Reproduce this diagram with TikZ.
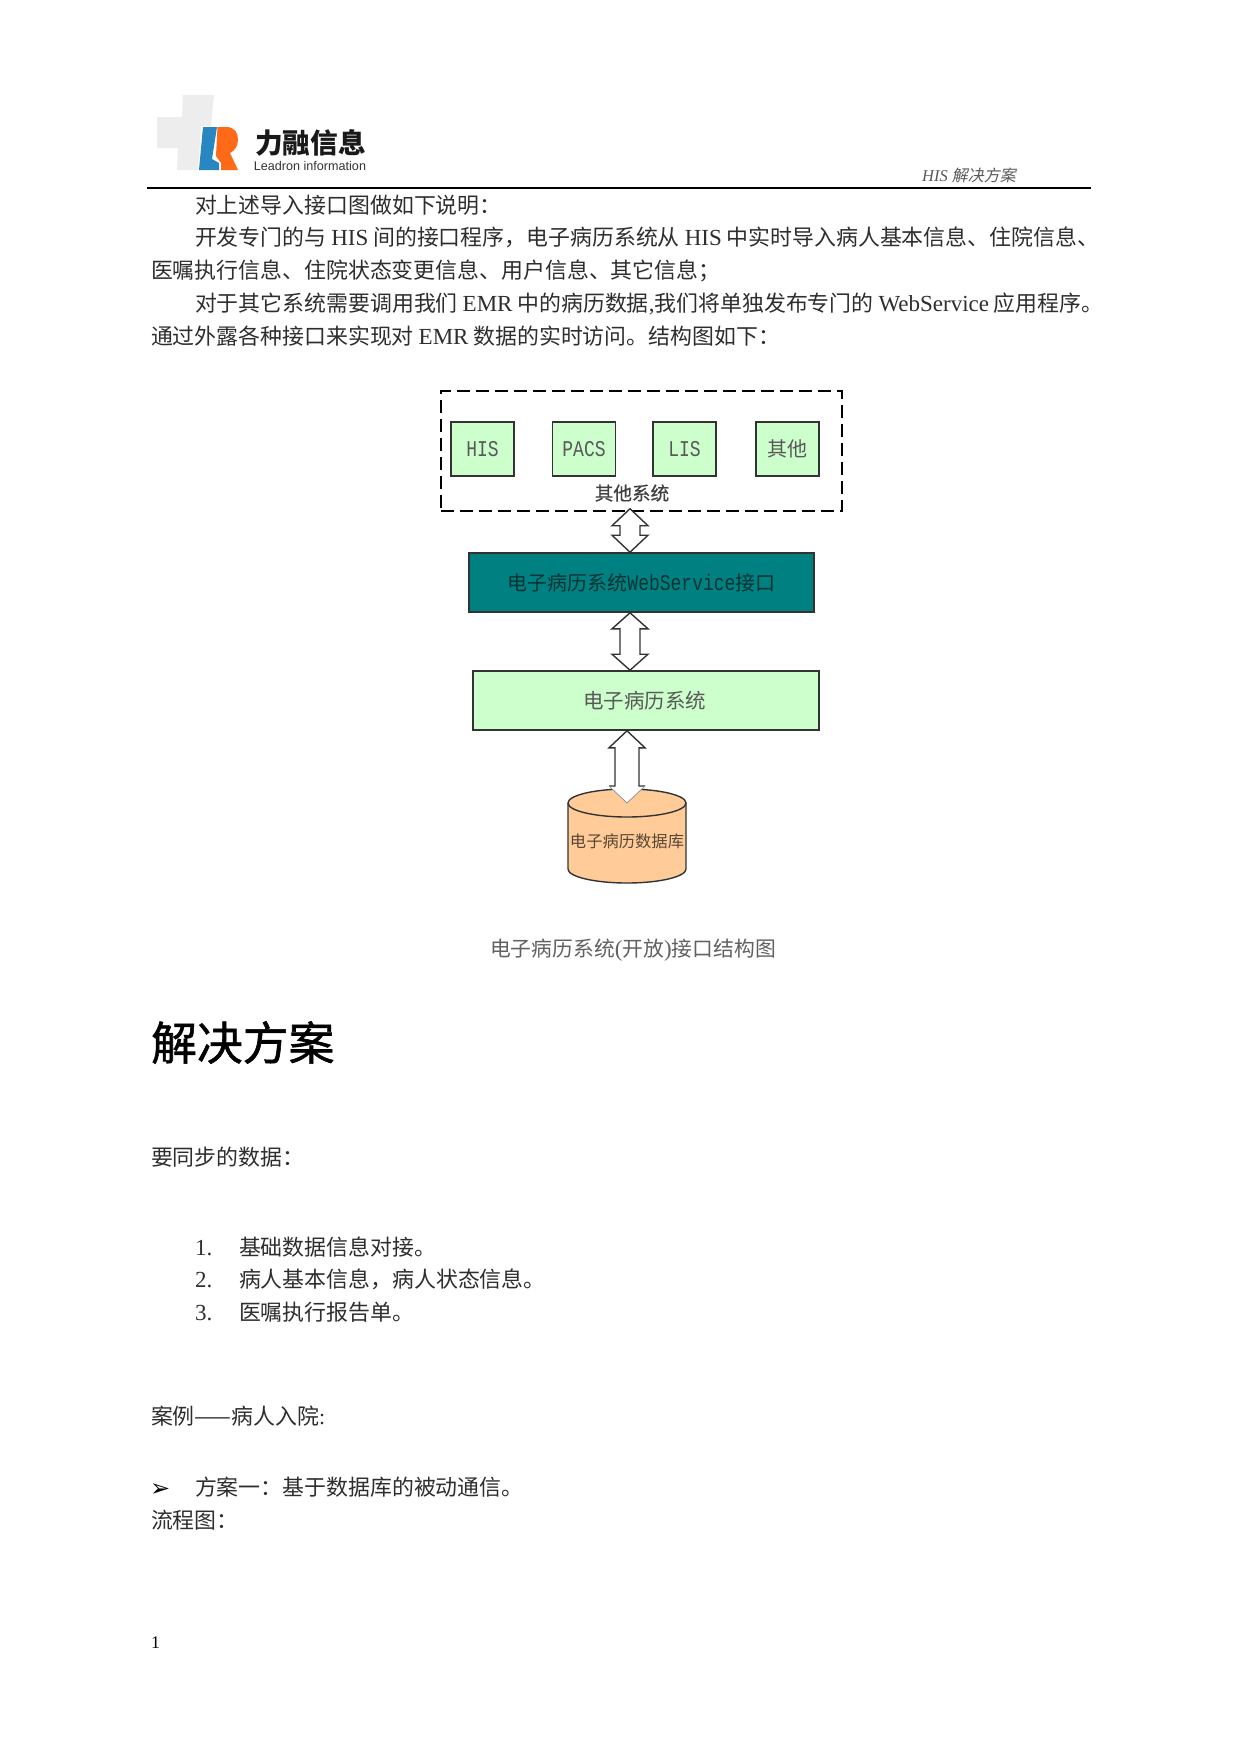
\documentclass[tikz,border=0pt]{standalone}
\usepackage{fontspec}
\usetikzlibrary{calc}
\setmainfont{Noto Sans CJK SC}
\newfontfamily\lat{Liberation Serif}
\newfontfamily\cjkit{Noto Sans CJK SC}[FakeSlant=0.2]
\newfontfamily\cjkh{Noto Sans CJK SC}[FakeBold=1.2]
\newfontfamily\cjkm{Noto Sans CJK SC}[FakeBold=0.6]
\newfontfamily\mono{Liberation Mono}
\newfontfamily\sanslat{Liberation Sans}
\newfontfamily\dv{DejaVu Sans}
\newcommand{\sz}[1]{\fontsize{#1}{#1}\selectfont}
\newcommand{\la}[1]{{\lat\sz{23}#1}}
\newcommand{\tall}[2]{\scalebox{1}[1.25]{\mono\sz{#1}#2}}
\newcommand{\up}[1]{\raisebox{1.5pt}{#1}}
\definecolor{bodyc}{HTML}{2E2E2E}
\definecolor{lgreen}{HTML}{CCFFCC}
\definecolor{tealc}{HTML}{008080}
\definecolor{orangec}{HTML}{FFCC99}
\definecolor{edgec}{HTML}{333333}
\tikzset{
  txt/.style={anchor=base west,inner sep=0pt,outer sep=0pt,text=bodyc,font=\sz{21.9}},
  sysbox/.style={draw=edgec,line width=1.6pt,fill=lgreen,minimum width=63pt,minimum height=54pt,inner sep=0pt,text=black!65,font=\sz{20}},
  widebox/.style={draw=edgec,line width=1.6pt,minimum height=59pt,inner sep=0pt,font=\sz{20}},
  fatline/.style={draw=edgec,line width=1.4pt,fill=white,line join=miter},
  cylline/.style={draw=edgec,line width=1.4pt},
}
\newcommand{\fatarrow}[5]{%
  \draw[fatline] (#1) -- ++(#4,#5) -- ++(#3-#4,0) -- ($(#2)+(#3,-#5)$) -- ++(#4-#3,0) -- (#2)
    -- ++(-#4,-#5) -- ++(#4-#3,0) -- ($(#1)+(-#3,#5)$) -- ++(#3-#4,0) -- cycle;}
\begin{document}
\begin{tikzpicture}[x=1pt,y=-1pt]
\useasboundingbox (0,0) rectangle (1241,1754);
\fill[white] (0,0) rectangle (1241,1754);

% logo
\fill[black!7] (183,95) -- (214,95) -- (211,126) -- (201,126) -- (198,170) -- (177,170) -- (178,148) -- (157,148) -- (157,117) -- (182,117) -- cycle;
\fill[cyan!75!blue!85!black] (203,127) -- (217,127) -- (212,159) -- (219,163) -- (219,170) -- (199,170) -- cycle;
\fill[orange!70!red!90!white] (217.5,127) -- (226,127) .. controls (235,127) and (238,133) .. (238,140) .. controls (238,147) and (234,151) .. (230,153) -- (238,170) -- (221,170) -- (221,163) -- (216,156) -- cycle;
\node[anchor=center,inner sep=0pt,text=black!90,font=\sz{27.7}\bfseries] (logocn) at (310.5,143) {力融信息};
\node[anchor=center,inner sep=0pt,text=black!80,font=\sanslat\sz{12.6}] (logoen) at (310,165.5) {Leadron information};

% header
\node[anchor=base west,inner sep=0pt,text=black!65,font=\sz{16}] (hdr) at (922,181) {{\lat\itshape\sz{16.5}HIS }{\cjkit 解决方案}};
\draw[black,line width=2pt] (147,187.5) -- (1091,187.5);

% body
\node[txt] (l1) at (195,213) {对上述导入接口图做如下说明：};
\node[txt] (l2) at (195,245.5) {开发专门的与 \la{HIS} 间的接口程序，电子病历系统从 \la{HIS} 中实时导入病人基本信息、住院信息、};
\node[txt] (l3) at (151,278) {医嘱执行信息、住院状态变更信息、用户信息、其它信息；};
\node[txt] (l4) at (195,311) {对于其它系统需要调用我们 \la{EMR} 中的病历数据\la{,}我们将单独发布专门的 \la{WebService} 应用程序。};
\node[txt] (l5) at (151,344) {通过外露各种接口来实现对 \la{EMR} 数据的实时访问。结构图如下：};

% diagram
\node[draw=black,dashed,dash pattern=on 13pt off 6pt,line width=1.5pt,minimum width=401pt,minimum height=120pt,inner sep=0pt] (others) at (641.5,451) {};
\node[sysbox] (his) at (482.5,449) {\tall{18}{HIS}};
\node[sysbox] (pacs) at (584,449) {\tall{18}{PACS}};
\node[sysbox] (lis) at (684.5,449) {\tall{18}{LIS}};
\node[sysbox] (qt) at (787.5,449) {\up{其他}};
\node[inner sep=0pt,text=black!75,font=\cjkm\sz{18.6}] (otherslbl) at (632,493) {其他系统};
\node[widebox,fill=tealc,minimum width=345pt,text=tealc!40!black] (ws) at (641.5,582.5) {\up{电子病历系统{\tall{18}{WebService}}接口}};
\node[widebox,fill=lgreen,minimum width=346pt,text=black!65] (emr) at (646,700.5) {\hspace{-3pt}\sz{20.5}\up{电子病历系统}};

\coordinate (a1t) at ($(others.south)+(-11.5,-3)$);
\coordinate (a1b) at (ws.north -| a1t);
\coordinate (a2t) at (ws.south -| a1t);
\coordinate (a2b) at (emr.north -| a1t);
\fatarrow{a1t}{a1b}{10}{18}{17}
\fatarrow{a2t}{a2b}{10}{18}{16}

% database
\draw[cylline,fill=orangec] (568,803) .. controls (568,795.3) and (594.4,789) .. (627,789) .. controls (659.6,789) and (686,795.3) .. (686,803) -- (686,869) .. controls (686,876.7) and (659.6,883) .. (627,883) .. controls (594.4,883) and (568,876.7) .. (568,869) -- cycle;
\draw[cylline] (568,803) .. controls (568,810.7) and (594.4,817) .. (627,817) .. controls (659.6,817) and (686,810.7) .. (686,803);
\node[inner sep=0pt,text=orangec!35!black,font=\sz{16.3}] (db) at (627,841) {电子病历数据库};

\coordinate (a3t) at (emr.south -| db);
\coordinate (a3b) at (db.north |- 0,803);
\fill[white] (a3t) -- ++(18,17) -- ++(-6,0) -- ($(a3b)+(12,-17)$) -- ++(6,0) -- (a3b) -- ++(-18,-17) -- ++(6,0) -- ($(a3t)+(-12,17)$) -- ++(-6,0) -- cycle;
\draw[fatline,fill=none] ($(a3b)+(-18,-17)$) -- ++(6,0) -- ($(a3t)+(-12,17)$) -- ++(-6,0) -- (a3t) -- ++(18,17) -- ++(-6,0) -- ($(a3b)+(12,-17)$) -- ++(6,0);
\draw[black!45,line width=0.7pt] ($(a3b)+(-18,-17)$) -- (a3b) -- ($(a3b)+(18,-17)$);

\node[inner sep=0pt,text=black!62,font=\sz{20.8}] (cap) at (633,950) {电子病历系统{\lat\sz{23}(}开放{\lat\sz{23})}接口结构图};

% lower text
\node[anchor=base west,inner sep=0pt,text=black,font=\cjkh\sz{45.8}] (h1) at (151,1060) {解决方案};
\node[txt] (s1) at (151,1165) {要同步的数据：};
\node[txt] (n1) at (195,1255) {\la{1.}};
\node[txt] (t1) at (239,1255) {基础数据信息对接。};
\node[txt] (n2) at (195,1287.5) {\la{2.}};
\node[txt] (t2) at (239,1287.5) {病人基本信息，病人状态信息。};
\node[txt] (n3) at (195,1320) {\la{3.}};
\node[txt] (t3) at (239,1320) {医嘱执行报告单。};
\node[txt] (c1) at (151,1424) {案例——病人入院{\lat:}};
\node[txt,text=black] (b1) at (150,1496) {{\dv\sz{24}➢}};
\node[txt] (b1t) at (195,1495) {方案一：基于数据库的被动通信。};
\node[txt] (f1) at (151,1528) {流程图：};
\node[anchor=base west,inner sep=0pt,text=black,font=\lat\sz{17.7}] (pg) at (151,1648) {1};
\end{tikzpicture}
\end{document}
